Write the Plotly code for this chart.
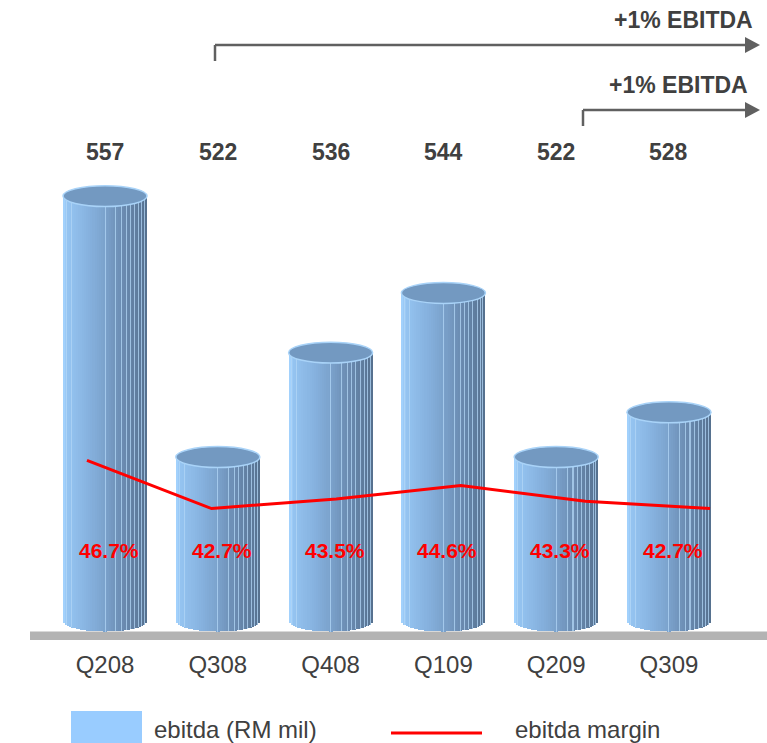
import math
import plotly.graph_objects as go

# --- data -------------------------------------------------------------
quarters = ["Q208", "Q308", "Q408", "Q109", "Q209", "Q309"]
ebitda = [557, 522, 536, 544, 522, 528]          # RM mil
ebitda_margin = [46.7, 42.7, 43.5, 44.6, 43.3, 42.7]  # %
growth_labels = ["+1% EBITDA", "+1% EBITDA"]

# --- canvas / styling -------------------------------------------------
W, H = 767, 743
PLOT_BOTTOM = 640          # px, bottom edge of the plotting area
FONT = "Arial, Liberation Sans, sans-serif"
TEXT_GREY = "#404040"
ARROW_GREY = "#606060"

BAR_BASE = 500             # centre of the bottom cap of each cylinder
CAP_HALF = 1.4             # half-height of the elliptical caps (data units)
BAR_WIDTH = 0.745          # fraction of a category slot
N_STRIPS = 40

Y_RANGE = [497.46, 583.3]
Y2_RANGE = [31.79, 84.9]
X_RANGE = [-0.931, 5.869]
X2_RANGE = [-0.698, 5.457]


def px(x):
    return x / W


def py(y):
    return 1 - y / PLOT_BOTTOM


def hex_to_rgb(h):
    h = h.lstrip("#")
    return tuple(int(h[i:i + 2], 16) for i in (0, 2, 4))


shade_stops = [
    (0.00, "#A6D5FF"),
    (0.06, "#95C4F1"),
    (0.30, "#87B3E0"),
    (0.50, "#7BA2CC"),
    (0.70, "#6C8DB3"),
    (0.88, "#5F7D9F"),
    (1.00, "#55708E"),
]


def shade(t):
    for (t0, c0), (t1, c1) in zip(shade_stops[:-1], shade_stops[1:]):
        if t0 <= t <= t1:
            a = (t - t0) / (t1 - t0)
            r0, g0, b0 = hex_to_rgb(c0)
            r1, g1, b1 = hex_to_rgb(c1)
            return "rgb(%d,%d,%d)" % (r0 + (r1 - r0) * a, g0 + (g1 - g0) * a, b0 + (b1 - b0) * a)
    return shade_stops[-1][1]


def curved_base(frac):
    # bottom edge of a vertical strip follows the front half of the bottom cap
    u = 2 * frac - 1
    return BAR_BASE - CAP_HALF * math.sqrt(max(0.0, 1 - u * u))


fig = go.Figure()

# cylinder bodies: vertical strips shaded from light (left) to dark (right)
strip_w = BAR_WIDTH / N_STRIPS
for k in range(N_STRIPS):
    mid = (k + 0.5) / N_STRIPS
    base = curved_base(mid)
    fig.add_trace(go.Bar(
        x=quarters,
        y=[v - base for v in ebitda],
        base=base,
        width=strip_w * 1.04,
        offset=-BAR_WIDTH / 2 + k * strip_w,
        marker=dict(color=shade(mid), line=dict(width=0)),
        hoverinfo="skip",
        showlegend=False,
    ))

# facet edges of the cylinders
facet_edges = [0.04, 0.10, 0.50, 0.63, 0.70, 0.75, 0.80, 0.85, 0.90, 0.94, 0.97]
edge_w = 0.009
for f in facet_edges:
    base = curved_base(f)
    fig.add_trace(go.Bar(
        x=quarters,
        y=[v - base for v in ebitda],
        base=base,
        width=edge_w,
        offset=-BAR_WIDTH / 2 + f * BAR_WIDTH - edge_w / 2,
        marker=dict(color="rgba(178,214,246,0.75)", line=dict(width=0)),
        hoverinfo="skip",
        showlegend=False,
    ))

# EBITDA margin line on its own overlaid axes
fig.add_trace(go.Scatter(
    x=quarters,
    y=ebitda_margin,
    mode="lines",
    line=dict(color="#FF0000", width=3),
    xaxis="x2",
    yaxis="y2",
    hoverinfo="skip",
    showlegend=False,
))

shapes = []

# floor band
shapes.append(dict(type="line", xref="paper", yref="y", x0=px(30), x1=1, y0=498, y1=498,
                   line=dict(color="#B3B3B3", width=9), layer="below"))

# top caps of the cylinders
for i, v in enumerate(ebitda):
    shapes.append(dict(
        type="circle", xref="x", yref="y",
        x0=i - BAR_WIDTH / 2, x1=i + BAR_WIDTH / 2,
        y0=v - CAP_HALF, y1=v + CAP_HALF,
        fillcolor="#7399C1",
        line=dict(color="#A9D3F8", width=1.5),
        layer="above",
    ))

# growth arrows
def elbow_arrow(x_start, y_drop, y_line, x_tip):
    out = [
        dict(type="line", xref="paper", yref="paper",
             x0=px(x_start), x1=px(x_start), y0=py(y_drop), y1=py(y_line),
             line=dict(color=ARROW_GREY, width=2.5)),
        dict(type="line", xref="paper", yref="paper",
             x0=px(x_start), x1=px(x_tip - 12), y0=py(y_line), y1=py(y_line),
             line=dict(color=ARROW_GREY, width=2.5)),
        dict(type="path", xref="paper", yref="paper",
             path="M %f %f L %f %f L %f %f Z" % (
                 px(x_tip - 15), py(y_line - 8), px(x_tip), py(y_line),
                 px(x_tip - 15), py(y_line + 8)),
             fillcolor=ARROW_GREY, line=dict(width=0)),
    ]
    return out

shapes += elbow_arrow(215, 61, 45, 760)
shapes += elbow_arrow(583, 126, 110, 760)

# legend swatches
shapes.append(dict(type="rect", xref="paper", yref="paper",
                   x0=px(71), x1=px(142), y0=py(711), y1=py(743),
                   fillcolor="#99CCFF", line=dict(width=0)))
shapes.append(dict(type="line", xref="paper", yref="paper",
                   x0=px(391), x1=px(482), y0=py(733), y1=py(733),
                   line=dict(color="#FF0000", width=3)))

annotations = []

# EBITDA values above the bars
for q, v in zip(quarters, ebitda):
    annotations.append(dict(
        x=q, xref="x", y=py(151.5), yref="paper", text=str(v), showarrow=False,
        font=dict(family=FONT, size=23, color=TEXT_GREY, weight="bold"),
        xanchor="center", yanchor="middle"))

# margin values inside the bars
for q, m in zip(quarters, ebitda_margin):
    annotations.append(dict(
        x=q, xref="x", y=509.4, yref="y", text="%.1f%%" % m, showarrow=False,
        xshift=4,
        font=dict(family=FONT, size=21, color="#FF0000", weight="bold"),
        xanchor="center", yanchor="middle"))

# growth captions
for label, x_right, y_mid in zip(growth_labels, [755, 750], [20.5, 85.5]):
    annotations.append(dict(
        x=px(x_right), xref="paper", y=py(y_mid), yref="paper", text=label,
        showarrow=False, xanchor="right", yanchor="middle",
        font=dict(family=FONT, size=23, color=TEXT_GREY, weight="bold")))

# legend captions
for label, x_left in [("ebitda (RM mil)", 152), ("ebitda margin", 513)]:
    annotations.append(dict(
        x=px(x_left), xref="paper", y=py(729), yref="paper", text=label,
        showarrow=False, xanchor="left", yanchor="middle",
        font=dict(family=FONT, size=24, color=TEXT_GREY)))

fig.update_layout(
    width=W, height=H,
    margin=dict(l=0, r=0, t=0, b=H - PLOT_BOTTOM, pad=0),
    paper_bgcolor="white", plot_bgcolor="white",
    barmode="overlay",
    bargap=0,
    showlegend=False,
    font=dict(family=FONT, color=TEXT_GREY),
    xaxis=dict(type="category", categoryorder="array", categoryarray=quarters,
               range=X_RANGE, showgrid=False, zeroline=False, showline=False,
               ticks="", tickfont=dict(family=FONT, size=24, color=TEXT_GREY),
               ticklabelstandoff=8, fixedrange=True),
    yaxis=dict(range=Y_RANGE, visible=False, fixedrange=True),
    xaxis2=dict(type="category", categoryorder="array", categoryarray=quarters,
                range=X2_RANGE, overlaying="x", visible=False),
    yaxis2=dict(range=Y2_RANGE, overlaying="y", visible=False),
    shapes=shapes,
    annotations=annotations,
)

fig.write_html("out.html")
